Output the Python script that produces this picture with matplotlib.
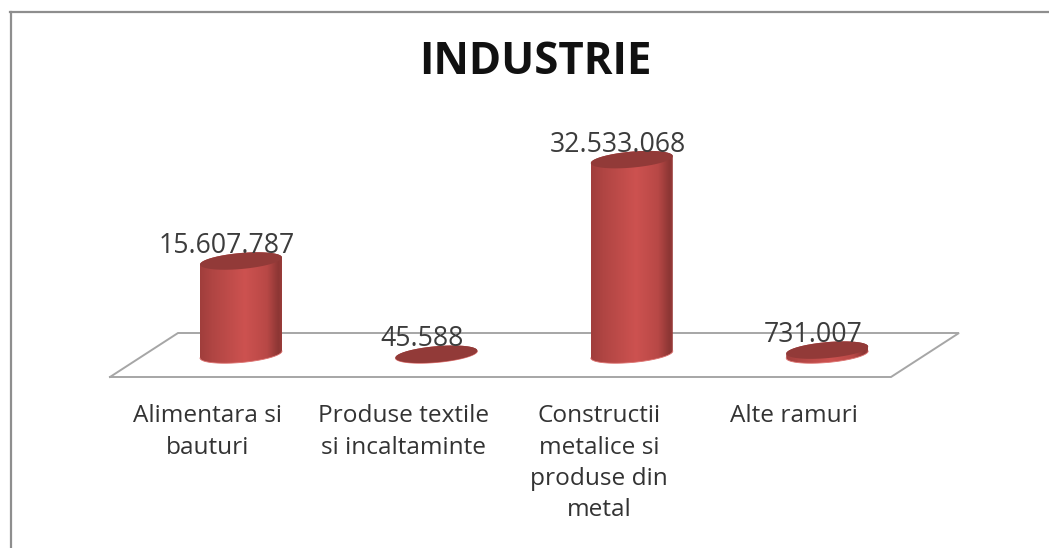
import numpy as np
import matplotlib
matplotlib.use("Agg")
import matplotlib.pyplot as plt
from matplotlib.colors import LinearSegmentedColormap
from matplotlib.patches import Polygon
from matplotlib.transforms import Affine2D

title = "INDUSTRIE"
categories = ["Alimentara si\nbauturi", "Produse textile\nsi incaltaminte",
              "Constructii\nmetalice si\nproduse din\nmetal", "Alte ramuri"]
values = [15607787, 45588, 32533068, 731007]
value_labels = ["15.607.787", "45.588", "32.533.068", "731.007"]

W, H = 1049, 548
PX_PER_CAT = 195.4
PX_PER_VAL = 5.99e-6
X0, Y0 = 241.0, 354.5

fig = plt.figure(figsize=(W / 100, H / 100), dpi=100)
ax = fig.add_axes([0, 0, 1, 1])
ax.set_xlim(-X0 / PX_PER_CAT, (W - X0) / PX_PER_CAT)
ax.set_ylim((Y0 - H) / PX_PER_VAL, Y0 / PX_PER_VAL)
ax.axis("off")
px = Affine2D().scale(1, -1).translate(0, H)
plt.rcParams["font.family"] = "Open Sans"

# frame
for xs, ys in (((10, W), (12, 12)), ((11, 11), (12, H))):
    ax.plot(xs, ys, color="#8e8e8e", lw=1.6, transform=px, zorder=1, clip_on=False)

# floor
fx = [110, 178, 959, 891, 110]
fy = [377, 333, 333, 377, 377]
ax.plot(fx, fy, color="#a6a6a6", lw=1.4, transform=px, zorder=1, solid_joinstyle="miter")

cmap = LinearSegmentedColormap.from_list(
    "cyl", [(0, "#a03e3c"), (0.15, "#b04543"), (0.55, "#cd5250"), (0.82, "#b84846"),
            (0.96, "#8c3634"), (1, "#9a3c3a")])
grad = np.linspace(0, 1, 256)[None, :]

RX = 41 / PX_PER_CAT
RY = 8 / PX_PER_VAL
TILT = 3.5 / PX_PER_VAL


def ell(t, cx, base):
    return cx + RX * np.cos(t), base + RY * np.sin(t) + TILT * np.cos(t)


for i, v in enumerate(values):
    lo = np.linspace(np.pi, 2 * np.pi, 60)
    up = np.linspace(0, np.pi, 60)
    bx, by = ell(lo, i, 0)
    tx, ty = ell(up, i, v)
    body = Polygon(np.column_stack([np.r_[bx, tx], np.r_[by, ty]]), closed=True,
                   facecolor="none", edgecolor="none", transform=ax.transData)
    ax.add_patch(body)
    im = ax.imshow(grad, extent=[i - RX, i + RX, -2 * RY, v + 2 * RY], cmap=cmap,
                   aspect="auto", zorder=3, interpolation="bilinear")
    im.set_clip_path(body)
    ax.plot(bx, by, color="#dd7270", lw=0.6, zorder=3.5)
    a = np.linspace(0, 2 * np.pi, 120)
    ex, ey = ell(a, i, v)
    ax.fill(ex, ey, color="#923a38", zorder=4, lw=0)

ax.set_xlim(-X0 / PX_PER_CAT, (W - X0) / PX_PER_CAT)
ax.set_ylim((Y0 - H) / PX_PER_VAL, Y0 / PX_PER_VAL)

# value labels
for i, (v, s) in enumerate(zip(values, value_labels)):
    ax.annotate(s, (i, v), xytext=(-14, 15), textcoords="offset pixels", ha="center",
                va="center", fontsize=19.2, color="#3c3c3c", zorder=5)

# category labels
for i, c in enumerate(categories):
    ax.annotate(c, (i, 0), xytext=(-33, -50), textcoords="offset pixels", ha="center",
                va="top", fontsize=17.6, color="#333333", linespacing=1.39, zorder=5)

ax.text(535, 62, title, transform=px, ha="center", va="center", fontsize=31.5,
        fontweight="bold", color="#111111")

fig.savefig("out.png", dpi=100)
